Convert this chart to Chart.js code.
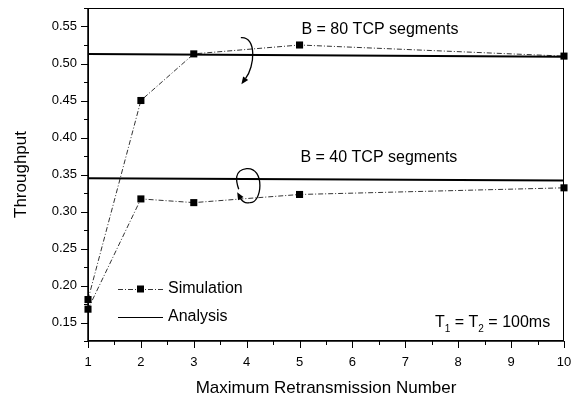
<!DOCTYPE html>
<html>
<head>
<meta charset="utf-8">
<script src="https://cdn.jsdelivr.net/npm/chart.js@4"></script>
<style>
  html, body { margin: 0; padding: 0; background: #fff; }
  canvas { display: block; }
</style>
</head>
<body>
<canvas id="myChart" width="572" height="404"></canvas>
<script>
// data
const retransX = [1, 2, 3, 5, 10];
const sim80 = [0.181, 0.450, 0.513, 0.525, 0.510];
const sim40 = [0.168, 0.317, 0.312, 0.323, 0.332];
const analysisX = [1, 10];
const ana80 = [0.513, 0.509];
const ana40 = [0.345, 0.342];

const yMin = 0.125, yMax = 0.575;
const xMin = 1, xMax = 10;

const FONT = "'Liberation Sans', Arial, sans-serif";

const toPoints = (xs, ys) => xs.map((x, i) => ({ x: x, y: ys[i] }));

const simStyle = {
  borderColor: "#333",
  borderWidth: 1,
  borderDash: [5, 2, 1, 2],
  pointStyle: "rect",
  pointRadius: 5,
  pointBackgroundColor: "#000",
  pointBorderColor: "#000",
  pointBorderWidth: 0,
  showLine: true,
  tension: 0
};
const anaStyle = {
  borderColor: "#000",
  borderWidth: 2,
  pointRadius: 0,
  showLine: true,
  tension: 0
};

// ticks, frame, legend, labels and arrows
const decorPlugin = {
  id: "decor",
  afterDraw(chart) {
    const ctx = chart.ctx;
    const xs = chart.scales.x, ys = chart.scales.y;
    const a = chart.chartArea;
    ctx.save();
    ctx.strokeStyle = "#000";
    ctx.lineWidth = 1;
    // frame
    ctx.strokeRect(a.left + 0.5, a.top + 0.5, a.right - a.left - 1, a.bottom - a.top - 1);
    ctx.lineWidth = 1.5;
    ctx.beginPath();
    ctx.moveTo(a.left, a.top); ctx.lineTo(a.left, a.bottom); ctx.lineTo(a.right, a.bottom);
    ctx.stroke();
    ctx.lineWidth = 1;
    // y ticks
    ctx.beginPath();
    ys.ticks.forEach(t => {
      const py = Math.round(ys.getPixelForValue(t.value)) + 0.5;
      const major = Math.round(t.value * 1000) % 50 === 0;
      ctx.moveTo(a.left - (major ? 7 : 4), py);
      ctx.lineTo(a.left, py);
    });
    // x ticks
    xs.ticks.forEach(t => {
      const px = Math.round(xs.getPixelForValue(t.value)) + 0.5;
      const major = Math.abs(t.value - Math.round(t.value)) < 1e-6;
      ctx.moveTo(px, a.bottom);
      ctx.lineTo(px, a.bottom + (major ? 7 : 4));
    });
    ctx.stroke();

    // axis titles
    ctx.fillStyle = "#000";
    ctx.font = "17px " + FONT;
    ctx.textAlign = "center";
    ctx.textBaseline = "middle";
    ctx.fillText("Maximum Retransmission Number", (a.left + a.right) / 2, 388);
    ctx.save();
    ctx.translate(21, (a.top + a.bottom) / 2);
    ctx.rotate(-Math.PI / 2);
    ctx.fillText("Throughput", 0, 0);
    ctx.restore();

    // curve labels
    ctx.font = "16px " + FONT;
    ctx.fillText("B = 80 TCP segments", xs.getPixelForValue(6.52), ys.getPixelForValue(0.546));
    ctx.fillText("B = 40 TCP segments", xs.getPixelForValue(6.5), ys.getPixelForValue(0.373));

    // T1 = T2 = 100ms
    ctx.textAlign = "left";
    let tx = 435, ty = 323;
    const seg = (s, sub) => {
      if (sub) {
        ctx.font = "10px " + FONT;
        ctx.fillText(s, tx, ty + 6);
      } else {
        ctx.font = "16px " + FONT;
        ctx.fillText(s, tx, ty);
      }
      tx += ctx.measureText(s).width;
    };
    seg("T", false); seg("1", true); seg(" = T", false); seg("2", true); seg(" = 100ms", false);

    // legend
    ctx.font = "16px " + FONT;
    ctx.textAlign = "left";
    const ly1 = 289, ly2 = 317;
    ctx.strokeStyle = "#333";
    ctx.setLineDash([5, 2, 1, 2]);
    ctx.beginPath();
    ctx.moveTo(118, ly1 + 0.5); ctx.lineTo(163, ly1 + 0.5);
    ctx.stroke();
    ctx.setLineDash([]);
    ctx.fillStyle = "#000";
    ctx.fillRect(137, ly1 - 3.5, 7, 7);
    ctx.strokeStyle = "#000";
    ctx.beginPath();
    ctx.moveTo(118, ly2 + 0.5); ctx.lineTo(163, ly2 + 0.5);
    ctx.stroke();
    ctx.fillText("Simulation", 168, ly1);
    ctx.fillText("Analysis", 168, ly2);

    // arrows
    const P = (x, y) => [xs.getPixelForValue(x), ys.getPixelForValue(y)];
    const head = (tip, from) => {
      const ang = Math.atan2(tip[1] - from[1], tip[0] - from[0]);
      ctx.beginPath();
      ctx.moveTo(tip[0], tip[1]);
      ctx.lineTo(tip[0] - 8 * Math.cos(ang - 0.4), tip[1] - 8 * Math.sin(ang - 0.4));
      ctx.lineTo(tip[0] - 8 * Math.cos(ang + 0.4), tip[1] - 8 * Math.sin(ang + 0.4));
      ctx.closePath();
      ctx.fill();
    };
    ctx.lineWidth = 1.3;
    // B = 80 arrow
    let p0 = P(3.89, 0.535), c1 = P(4.2, 0.537), c2 = P(4.15, 0.495), p1 = P(3.98, 0.48);
    ctx.beginPath();
    ctx.moveTo(p0[0], p0[1]);
    ctx.bezierCurveTo(c1[0], c1[1], c2[0], c2[1], p1[0], p1[1]);
    ctx.stroke();
    head(P(3.9, 0.472), p1);
    // B = 40 arrow
    const mid = P(4.05, 0.312);
    ctx.beginPath();
    ctx.moveTo(mid[0], mid[1]);
    const k1 = P(4.3, 0.31), k2 = P(4.35, 0.36), top = P(4.0, 0.358);
    ctx.bezierCurveTo(k1[0], k1[1], k2[0], k2[1], top[0], top[1]);
    const k3 = P(3.75, 0.356), k4 = P(3.8, 0.34);
    ctx.bezierCurveTo(k3[0], k3[1], k4[0], k4[1], P(3.85, 0.33)[0], P(3.85, 0.33)[1]);
    ctx.stroke();
    ctx.beginPath();
    ctx.moveTo(mid[0], mid[1]);
    const k5 = P(3.95, 0.31);
    ctx.quadraticCurveTo(k5[0], k5[1], P(3.88, 0.318)[0], P(3.88, 0.318)[1]);
    ctx.stroke();
    head(P(3.82, 0.326), P(3.9, 0.316));
    ctx.restore();
  }
};

new Chart(document.getElementById("myChart"), {
  type: "scatter",
  data: {
    datasets: [
      Object.assign({ label: "Analysis B=80", data: toPoints(analysisX, ana80) }, anaStyle),
      Object.assign({ label: "Analysis B=40", data: toPoints(analysisX, ana40) }, anaStyle),
      Object.assign({ label: "Simulation B=80", data: toPoints(retransX, sim80) }, simStyle),
      Object.assign({ label: "Simulation B=40", data: toPoints(retransX, sim40) }, simStyle)
    ]
  },
  options: {
    responsive: false,
    animation: false,
    clip: false,
    layout: { padding: { top: 8, right: 8, left: 0, bottom: 0 } },
    plugins: { legend: { display: false }, tooltip: { enabled: false } },
    scales: {
      x: {
        type: "linear",
        min: xMin,
        max: xMax,
        grid: { display: true, drawOnChartArea: false, drawTicks: true, tickLength: 7, color: "rgba(0,0,0,0)" },
        border: { display: false },
        ticks: {
          stepSize: 0.5,
          autoSkip: false,
          maxRotation: 0,
          padding: 7,
          color: "#000",
          font: { family: FONT, size: 13 },
          callback: v => (Math.abs(v - Math.round(v)) < 1e-6 ? String(Math.round(v)) : "")
        },
        afterFit: s => { s.height = 63; s.paddingLeft = 0; s.paddingRight = 0; }
      },
      y: {
        type: "linear",
        min: yMin,
        max: yMax,
        grid: { display: true, drawOnChartArea: false, drawTicks: true, tickLength: 7, color: "rgba(0,0,0,0)" },
        border: { display: false },
        ticks: {
          stepSize: 0.025,
          autoSkip: false,
          padding: 4,
          color: "#000",
          font: { family: FONT, size: 13 },
          callback: v => (Math.round(v * 1000) % 50 === 0 ? v.toFixed(2) : "")
        },
        afterFit: s => { s.width = 88; s.paddingTop = 0; s.paddingBottom = 0; }
      }
    }
  },
  plugins: [decorPlugin]
});
</script>
</body>
</html>
